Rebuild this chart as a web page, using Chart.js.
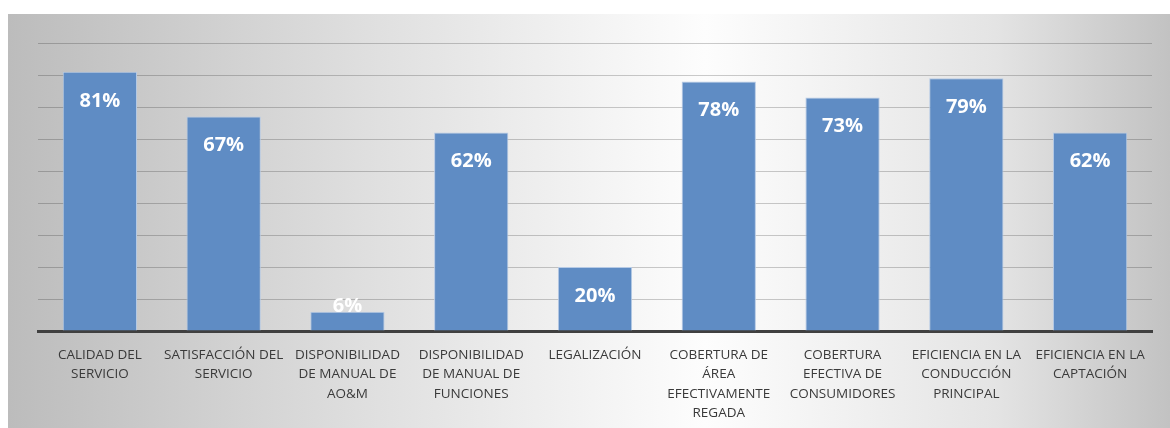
<!DOCTYPE html>
<html>
<head>
<meta charset="utf-8">
<script src="https://cdn.jsdelivr.net/npm/chart.js@4/dist/chart.umd.min.js"></script>
<style>
    body { margin: 0; background: #ffffff; }
    #wrap { width: 1170px; height: 428px; position: relative; }
</style>
</head>
<body>
<div id="wrap"><canvas id="chart"></canvas></div>
<script>
const categories = [
    ["CALIDAD DEL", "SERVICIO"],
    ["SATISFACCIÓN DEL", "SERVICIO"],
    ["DISPONIBILIDAD", "DE MANUAL DE", "AO&M"],
    ["DISPONIBILIDAD", "DE MANUAL DE", "FUNCIONES"],
    ["LEGALIZACIÓN"],
    ["COBERTURA DE", "ÁREA", "EFECTIVAMENTE", "REGADA"],
    ["COBERTURA", "EFECTIVA DE", "CONSUMIDORES"],
    ["EFICIENCIA EN LA", "CONDUCCIÓN", "PRINCIPAL"],
    ["EFICIENCIA EN LA", "CAPTACIÓN"]
];
const values = [81, 67, 6, 62, 20, 78, 73, 79, 62];
const yMax = 90;
const yStep = 10;

// grey-to-white backdrop behind the whole chart panel
const panelBackground = {
    id: 'panelBackground',
    beforeDraw(chart) {
        const ctx = chart.ctx;
        const x0 = 8, y0 = 14, x1 = chart.width, y1 = chart.height;
        ctx.save();
        const g = ctx.createLinearGradient(x0, 0, x1, 0);
        g.addColorStop(0, '#bcbcbc');
        g.addColorStop(0.3, '#dedede');
        g.addColorStop(0.6, '#fdfdfd');
        g.addColorStop(0.85, '#e4e4e4');
        g.addColorStop(1, '#c2c2c2');
        ctx.fillStyle = g;
        ctx.fillRect(x0, y0, x1 - x0, y1 - y0);
        ctx.restore();
    }
};

// white percentage labels inside the top of each bar
const barLabels = {
    id: 'barLabels',
    afterDatasetsDraw(chart) {
        const ctx = chart.ctx;
        const meta = chart.getDatasetMeta(0);
        ctx.save();
        ctx.fillStyle = '#ffffff';
        ctx.font = 'bold 20px "Open Sans"';
        ctx.textAlign = 'center';
        ctx.textBaseline = 'middle';
        meta.data.forEach((bar, i) => {
            const y = Math.min(bar.y + 29, bar.base - 24);
            ctx.fillText(values[i] + '%', bar.x, y);
        });
        ctx.restore();
    }
};

new Chart(document.getElementById('chart').getContext('2d'), {
    type: 'bar',
    data: {
        labels: categories,
        datasets: [{
            data: values,
            backgroundColor: '#5f8cc4',
            borderColor: '#b6cae5',
            borderWidth: 1,
            categoryPercentage: 1,
            barPercentage: 0.6
        }]
    },
    options: {
        responsive: true,
        maintainAspectRatio: false,
        animation: false,
        layout: { padding: { top: 43, right: 18, left: 0, bottom: 0 } },
        plugins: {
            legend: { display: false },
            tooltip: { enabled: false }
        },
        scales: {
            x: {
                grid: { display: false, drawTicks: false },
                border: { display: true, color: '#404040', width: 3 },
                ticks: {
                    color: '#3a3a3a',
                    font: { family: '"Open Sans"', size: 13.5, lineHeight: 1.45 },
                    padding: 14,
                    maxRotation: 0,
                    minRotation: 0,
                    autoSkip: false
                },
                afterFit: scale => { scale.height = 97; }
            },
            y: {
                min: 0,
                max: yMax,
                ticks: { display: false, stepSize: yStep },
                grid: { color: 'rgba(0,0,0,0.2)', lineWidth: 1, drawTicks: false },
                border: { display: false },
                afterFit: scale => { scale.width = 38; }
            }
        }
    },
    plugins: [panelBackground, barLabels]
});
</script>
</body>
</html>
